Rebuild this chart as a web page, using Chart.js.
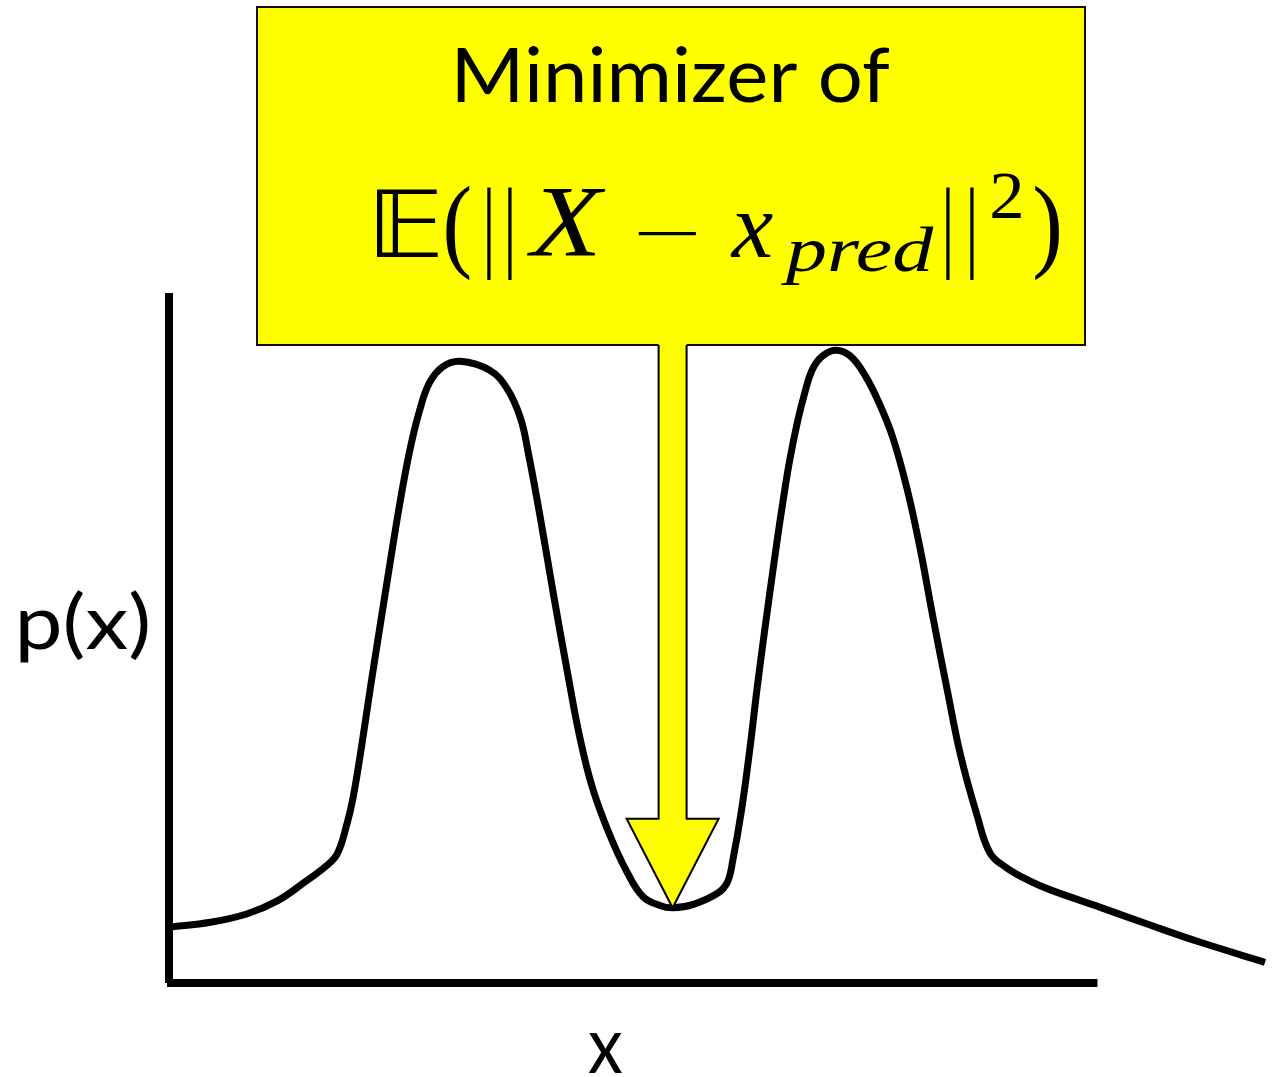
<!DOCTYPE html>
<html>
<head>
<meta charset="utf-8">
<title>p(x)</title>
<script src="https://cdn.jsdelivr.net/npm/chart.js@4.4.1/dist/chart.umd.min.js"></script>
<style>
  html, body { margin: 0; padding: 0; background: #fff; }
  canvas { display: block; }
</style>
</head>
<body>
<canvas id="densityChart" width="1279" height="1077"></canvas>
<script>
// bimodal density, x in arbitrary units, p(x) scaled to 0..1
const xValues = [0, 0.37, 0.70, 0.98, 1.22, 1.43, 1.53, 1.62, 1.67, 1.74,
  1.83, 1.92, 2.01, 2.10, 2.19, 2.28, 2.37, 2.49, 2.65, 2.92,
  3.08, 3.20, 3.27, 3.38, 3.50, 3.63, 3.74, 3.86, 4.02, 4.17,
  4.32, 4.48, 4.59, 4.78, 5.00, 5.09, 5.14, 5.22, 5.30, 5.36,
  5.43, 5.53, 5.60, 5.66, 5.73, 5.80, 5.86, 5.94, 6.07, 6.21,
  6.35, 6.48, 6.60, 6.73, 6.85, 6.97, 7.10, 7.22, 7.37, 7.49,
  7.64, 7.85, 8.04, 8.49, 8.95, 9.41, 10.0];
const pValues = [0.081, 0.088, 0.100, 0.119, 0.145, 0.170, 0.188, 0.233, 0.267, 0.333,
  0.428, 0.519, 0.609, 0.696, 0.772, 0.830, 0.870, 0.893, 0.901, 0.888,
  0.861, 0.819, 0.770, 0.676, 0.565, 0.450, 0.358, 0.282, 0.213, 0.162,
  0.125, 0.112, 0.109, 0.114, 0.130, 0.146, 0.178, 0.251, 0.345, 0.425,
  0.510, 0.625, 0.700, 0.758, 0.813, 0.857, 0.887, 0.906, 0.917, 0.909,
  0.880, 0.839, 0.791, 0.717, 0.630, 0.528, 0.423, 0.330, 0.243, 0.188,
  0.167, 0.148, 0.135, 0.110, 0.084, 0.059, 0.030];

const xAxisEnd = 8.47;     // horizontal axis stops short of the tail
const predX = 4.59;        // where the squared-error minimizer lands
const yAxisLabel = 'p(x)';
const xAxisLabel = 'x';
const boxTitle = 'Minimizer of';

const YELLOW = '#ffff00';

// draw text so its ink fills the given box
function fitInk(ctx, text, font, left, right, top, bottom) {
  ctx.save();
  ctx.font = font;
  ctx.textAlign = 'left';
  ctx.textBaseline = 'alphabetic';
  const m = ctx.measureText(text);
  const inkW = m.actualBoundingBoxLeft + m.actualBoundingBoxRight;
  const inkH = m.actualBoundingBoxAscent + m.actualBoundingBoxDescent;
  const sx = (right - left) / inkW;
  const sy = (bottom - top) / inkH;
  ctx.translate(left, top);
  ctx.scale(sx, sy);
  ctx.fillText(text, m.actualBoundingBoxLeft, m.actualBoundingBoxAscent);
  ctx.restore();
}

const axesPlugin = {
  id: 'axesLines',
  beforeDatasetsDraw(chart) {
    const {ctx, scales: {x, y}} = chart;
    ctx.save();
    ctx.strokeStyle = '#000';
    ctx.lineWidth = 8;
    ctx.lineCap = 'butt';
    ctx.beginPath();
    ctx.moveTo(x.getPixelForValue(0) - 1, y.getPixelForValue(1));
    ctx.lineTo(x.getPixelForValue(0) - 1, y.getPixelForValue(0));
    ctx.moveTo(x.getPixelForValue(0) - 3, y.getPixelForValue(0));
    ctx.lineTo(x.getPixelForValue(xAxisEnd), y.getPixelForValue(0));
    ctx.stroke();
    ctx.restore();
  }
};

const annotationPlugin = {
  id: 'minimizerBox',
  afterDraw(chart) {
    const {ctx, scales: {x, y}} = chart;
    ctx.save();

    // axis labels
    ctx.fillStyle = '#000';
    fitInk(ctx, yAxisLabel, '78px Lato', 20, 148, 590, 662);
    fitInk(ctx, xAxisLabel, '78px Lato', 588, 622, 1033, 1073);

    // yellow box
    const bx = 257, by = 7, bw = 828, bh = 338;
    ctx.fillStyle = YELLOW;
    ctx.fillRect(bx, by, bw, bh);
    ctx.strokeStyle = '#111';
    ctx.lineWidth = 2;
    ctx.strokeRect(bx, by, bw, bh);

    // arrow down to the valley of the curve
    let idx = 0;
    xValues.forEach((v, i) => {
      if (Math.abs(v - predX) < Math.abs(xValues[idx] - predX)) idx = i;
    });
    const tx = x.getPixelForValue(xValues[idx]);
    const ty = y.getPixelForValue(pValues[idx]);
    const shaftHalf = 14, headHalf = 46, headLen = 89;
    const top = by + bh;
    const outline = [
      [tx - shaftHalf, top],
      [tx - shaftHalf, ty - headLen],
      [tx - headHalf, ty - headLen],
      [tx, ty],
      [tx + headHalf, ty - headLen],
      [tx + shaftHalf, ty - headLen],
      [tx + shaftHalf, top]
    ];
    ctx.beginPath();
    ctx.moveTo(outline[0][0], top - 2);
    outline.forEach(p => ctx.lineTo(p[0], p[1]));
    ctx.lineTo(outline[6][0], top - 2);
    ctx.closePath();
    ctx.fillStyle = YELLOW;
    ctx.fill();
    ctx.beginPath();
    ctx.moveTo(outline[0][0], outline[0][1]);
    outline.slice(1).forEach(p => ctx.lineTo(p[0], p[1]));
    ctx.lineJoin = 'miter';
    ctx.strokeStyle = '#000';
    ctx.lineWidth = 2;
    ctx.stroke();

    // box text
    ctx.fillStyle = '#000';
    fitInk(ctx, boxTitle, '74px Lato', 457, 890, 47, 103);

    const serif = '100px "Liberation Serif", "DejaVu Serif", serif';
    const serifIt = 'italic 100px "Liberation Serif", "DejaVu Serif", serif';
    fitInk(ctx, '\u{1D53C}', '100px "DejaVu Sans", "DejaVu Serif", serif', 376, 438, 190, 257);
    fitInk(ctx, '(', serif, 446, 470, 185, 281);
    // norm bars, one thin stroke each
    fitInk(ctx, '|', serif, 487, 491, 187, 279);
    fitInk(ctx, '|', serif, 508, 512, 187, 279);
    fitInk(ctx, 'X', serifIt, 526, 606, 190, 257);
    fitInk(ctx, '\u2212', serif, 638, 697, 232, 236);
    fitInk(ctx, 'x', serifIt, 730, 773, 214, 257);
    fitInk(ctx, 'pred', serifIt, 781, 934, 227, 284);
    fitInk(ctx, '|', serif, 946, 950, 187, 279);
    fitInk(ctx, '|', serif, 970, 974, 187, 279);
    fitInk(ctx, '2', serif, 992, 1021, 174, 219);
    fitInk(ctx, ')', serif, 1035, 1059, 185, 281);

    ctx.restore();
  }
};

const ctx = document.getElementById('densityChart').getContext('2d');
const densityChart = new Chart(ctx, {
  type: 'line',
  data: {
    datasets: [{
      data: xValues.map((v, i) => ({x: v, y: pValues[i]})),
      borderColor: '#000',
      borderWidth: 7,
      pointRadius: 0,
      fill: false,
      tension: 0.4,
      clip: false
    }]
  },
  options: {
    responsive: false,
    animation: false,
    layout: {
      padding: {left: 170, right: 14, top: 293, bottom: 94}
    },
    plugins: {
      legend: {display: false},
      tooltip: {enabled: false}
    },
    scales: {
      x: {type: 'linear', min: 0, max: 10, display: false},
      y: {min: 0, max: 1, display: false}
    }
  },
  plugins: [axesPlugin, annotationPlugin]
});
</script>
</body>
</html>
